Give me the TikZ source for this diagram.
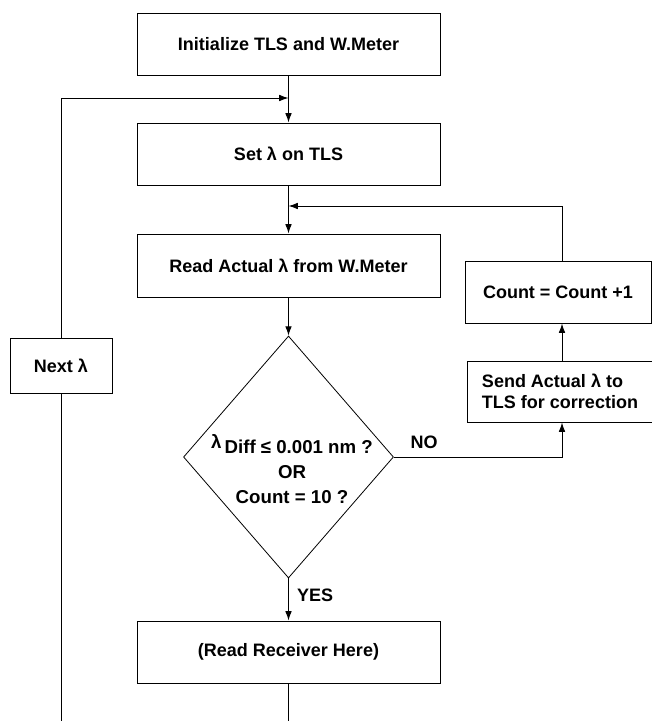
\documentclass[tikz,border=0pt]{standalone}
\usepackage{fontspec}
\setmainfont{Liberation Sans}
\usetikzlibrary{shapes.geometric,arrows.meta,calc}
\begin{document}
\begin{tikzpicture}[x=0.75pt,y=-0.75pt,
  box/.style={draw,line width=0.75pt,minimum width=227.25pt,minimum height=46.5pt,inner sep=0pt,
    font=\fontsize{13.5}{16}\selectfont\bfseries},
  sidebox/.style={box,minimum width=139.5pt},
  ln/.style={line width=0.75pt},
  arr/.style={line width=0.75pt,-{Latex[length=7pt,width=5pt]}},
  lbl/.style={font=\fontsize{13.5}{16}\selectfont\bfseries,inner sep=0pt},
  dtext/.style={font=\fontsize{14}{18.75}\selectfont\bfseries,align=center,inner sep=0pt}]
\useasboundingbox (0,0) rectangle (652,721);
% main column
\node[box] (init) at (288.5,44) {Initialize TLS and W.Meter};
\node[box] (set) at (288.5,154) {Set λ on TLS};
\node[box,minimum height=47.25pt] (read) at (288.5,265.5) {Read Actual λ from W.Meter};
\node[diamond,draw,line width=0.6pt,minimum width=157.5pt,minimum height=181.5pt,inner sep=0pt] (dec) at (288.5,457) {};
\node[dtext] (dtxt) at (292,469) {\raisebox{3.5pt}{λ}\,Diff ≤ 0.001 nm ?\\OR\\Count = 10 ?};
\node[box] (rec) at (288.5,652) {(Read Receiver Here)};
% left column
\node[box,minimum width=76.5pt,minimum height=41.25pt] (next) at (61,365.5) {Next λ};
% right column
\node[sidebox] (count) at (558,292) {Count = Count +1};
\node[sidebox,minimum height=45.75pt,align=left,font=\fontsize{13.5}{15.75}\selectfont\bfseries] (send) at (560,391.5) {Send Actual λ to\\TLS for correction};
% helper coordinates
\coordinate (rx) at (562,206);
\coordinate (bot) at (288.5,721);
\coordinate (lb) at (61,721);
\coordinate (lt) at (61,98);
\coordinate (mt) at (288.5,98);
\coordinate (ft) at (288.5,206);
% connectors
\draw[arr] (init.south) -- (set.north);
\draw[arr] (set.south) -- (read.north);
\draw[arr] (read.south) -- (dec.north);
\draw[arr] (dec.south) -- node[lbl,right=6pt,pos=0.4] (yes) {YES} (rec.north);
\draw[ln] (rec.south) -- (bot);
\draw[ln] (lb) -- (next.south);
\draw[arr] (next.north) -- (lt) -- (mt);
\draw[arr] (dec.east) -- node[lbl,above=6pt,pos=0.18] (no) {NO} (rx |- dec.east) -- (rx |- send.south);
\draw[arr] (rx |- send.north) -- (rx |- count.south);
\draw[arr] (rx |- count.north) -- (rx) -- (ft);
\end{tikzpicture}
\end{document}
